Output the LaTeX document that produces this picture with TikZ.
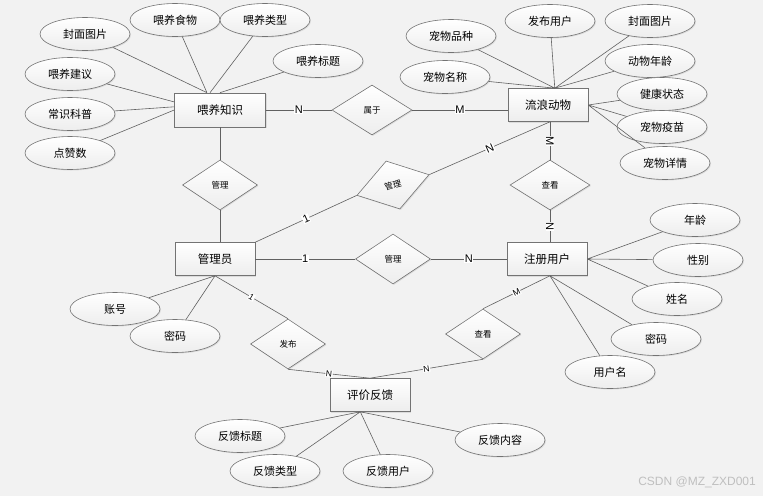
\documentclass[tikz,border=0pt]{standalone}
\usepackage{fontspec}
\setsansfont{Liberation Sans}
\newfontfamily\cjkfont{Noto Sans CJK SC}
\usetikzlibrary{shapes.geometric,shadows}
\tikzset{
	er/.style={draw=black!55,line width=0.6pt,top color=white,bottom color=black!7,
		drop shadow={shadow xshift=1pt,shadow yshift=-1pt,opacity=0.2},inner sep=0pt},
	entity/.style={er,rectangle,minimum width=80,minimum height=33,font=\cjkfont\fontsize{11.5}{12}\selectfont},
	attrib/.style={er,ellipse,minimum width=90,minimum height=33,font=\cjkfont\fontsize{11}{12}\selectfont},
	rel/.style={er,diamond,aspect=1.5,minimum width=75,minimum height=50,font=\cjkfont\fontsize{8.5}{9}\selectfont},
	link/.style={draw=black!62,line width=0.6pt},
	card/.style={fill=white,inner sep=0.6pt,font=\sffamily\fontsize{11}{11}\selectfont},
	smallcard/.style={card,font=\sffamily\fontsize{8.5}{8.5}\selectfont}
}
\newcommand{\attrnode}[4][]{\node[attrib,#1] at (#2) (#3) {#4}}
\begin{document}
\begin{tikzpicture}[x=1pt,y=-1pt]
	\fill[black!5] (0,0) rectangle (763,496);
	\useasboundingbox (0,0) rectangle (763,496);
	% entities
	\node[entity,minimum width=91,minimum height=34] at (220,110) (know) {喂养知识};
	\node[entity] at (548,105) (stray) {流浪动物};
	\node[entity] at (215,259) (admin) {管理员};
	\node[entity] at (547,259) (user) {注册用户};
	\node[entity] at (370,395) (feedback) {评价反馈};
	% relations
	\node[rel,minimum width=80] at (372,110) (belong) {属于};
	\node[rel] at (220,185) (manageknow) {管理};
	\node[rel,rotate=16] at (393,185) (managepet) {管理};
	\node[rel,minimum width=80] at (550,185) (lookpet) {查看};
	\node[rel] at (393,259) (manageuser) {管理};
	\node[rel] at (288,344) (issue) {发布};
	\node[rel] at (483,334) (lookfb) {查看};
	\coordinate (straybot) at (lookpet.north |- stray.south);
	% attributes
	\attrnode{85,34}{kcover}{封面图片};
	\attrnode{175,20}{kfood}{喂养食物};
	\attrnode{265,20}{ktype}{喂养类型};
	\attrnode{318,61}{ktitle}{喂养标题};
	\attrnode{70,74}{kadvice}{喂养建议};
	\attrnode{70,114}{ksci}{常识科普};
	\attrnode{70,153}{klike}{点赞数};
	\attrnode{451,36}{sbreed}{宠物品种};
	\attrnode{550,21}{spub}{发布用户};
	\attrnode{650,21}{scover}{封面图片};
	\attrnode{445,77}{sname}{宠物名称};
	\attrnode{650,61}{sage}{动物年龄};
	\attrnode{662,94}{shealth}{健康状态};
	\attrnode{662,127}{svacc}{宠物疫苗};
	\attrnode{665,163}{sdetail}{宠物详情};
	\attrnode{115,309}{aacc}{账号};
	\attrnode{175,336}{apwd}{密码};
	\attrnode{695,220}{uage}{年龄};
	\attrnode{698,260}{usex}{性别};
	\attrnode{677,299}{uname}{姓名};
	\attrnode{656,339}{upwd}{密码};
	\attrnode{610,372}{uuser}{用户名};
	\attrnode{240,436}{ftitle}{反馈标题};
	\attrnode{275,471}{ftype}{反馈类型};
	\attrnode{388,471}{fuser}{反馈用户};
	\attrnode{500,440}{fcontent}{反馈内容};
	% attribute links
	\draw[link] (kcover) -- (know.127)
		(kfood) -- (know.127)
		(ktype) -- (know.120)
		(ktitle) -- (know.90)
		(kadvice) -- (know.170)
		(ksci) -- (know.176)
		(klike) -- (know.west);
	\draw[link] (sbreed) -- (stray.68)
		(spub) -- (stray.68)
		(scover) -- (stray.68)
		(sname) -- (stray.68)
		(sage) -- (stray.68)
		(shealth) -- (stray.east)
		(svacc) -- (stray.east)
		(sdetail) -- (stray.east);
	\draw[link] (aacc) -- (admin.south)
		(apwd) -- (admin.south);
	\draw[link] (uage) -- (user.east)
		(usex) -- (user.east)
		(uname) -- (user.east)
		(upwd) -- (user.-80)
		(uuser) -- (user.-80);
	\draw[link] (ftitle) -- (feedback.240)
		(ftype) -- (feedback.240)
		(fuser) -- (feedback.240)
		(fcontent) -- (feedback.240);
	% relation links
	\draw[link] (know) -- node[card]{N} (belong);
	\draw[link] (belong.east) -- node[card]{M} (belong.east -| stray.west);
	\draw[link] (know) -- (manageknow);
	\draw[link] (manageknow.south) -- (manageknow.south |- admin.north);
	\draw[link] (admin.north east) -- node[card,sloped]{1} (managepet.west);
	\draw[link] (managepet.east) -- node[card,sloped]{N} (straybot);
	\draw[link] (straybot) -- node[card,rotate=-90]{M} (lookpet.north);
	\draw[link] (lookpet.south) -- node[card,rotate=-90]{N} (lookpet.south |- user.north);
	\draw[link] (admin) -- node[card]{1} (manageuser);
	\draw[link] (manageuser) -- node[card]{N} (user);
	\draw[link] (admin.south) -- node[smallcard,sloped]{1} (issue.north);
	\draw[link] (issue.south) -- node[smallcard,sloped]{N} (feedback.north);
	\draw[link] (user.-80) -- node[smallcard,sloped]{M} (lookfb.north);
	\draw[link] (lookfb.south) -- node[smallcard,sloped]{N} (feedback.north);
	% watermark
	\node[anchor=east,text=black!25,font=\sffamily\fontsize{12}{12}\selectfont,inner sep=0pt] at (756,482) (mark) {CSDN @MZ\_ZXD001};
\end{tikzpicture}
\end{document}
